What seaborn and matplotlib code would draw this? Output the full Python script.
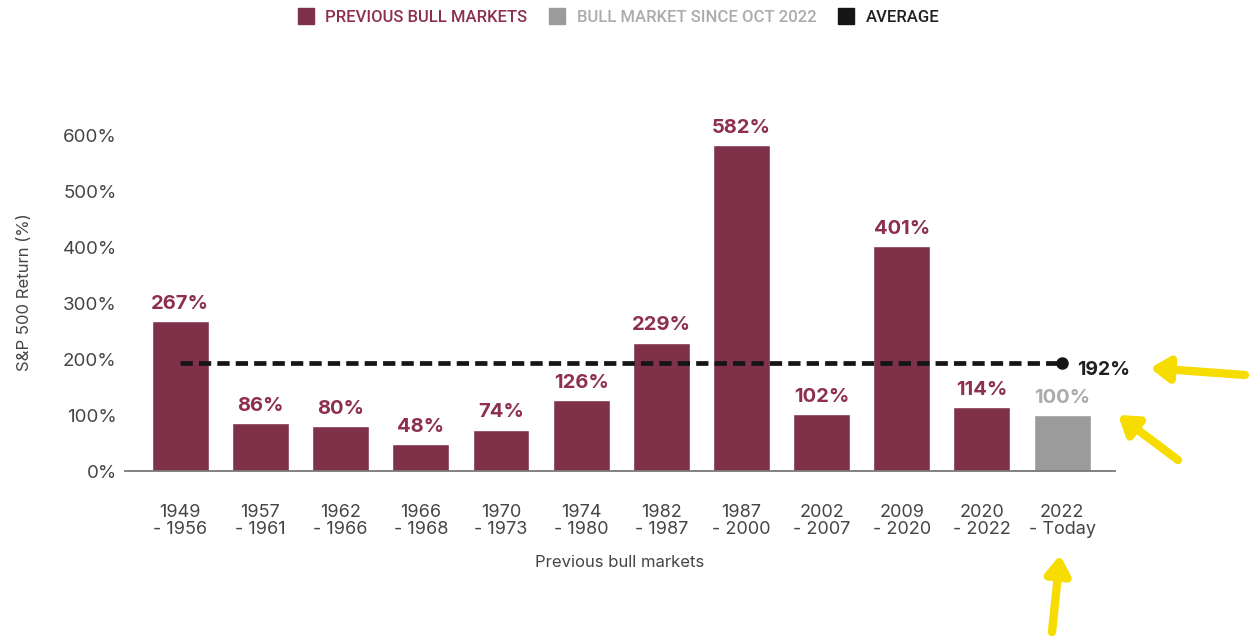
import matplotlib
matplotlib.use("Agg")
import matplotlib.pyplot as plt
import seaborn as sns
import pandas as pd
from matplotlib.lines import Line2D

periods = ["1949\n- 1956", "1957\n- 1961", "1962\n- 1966", "1966\n- 1968", "1970\n- 1973",
           "1974\n- 1980", "1982\n- 1987", "1987\n- 2000", "2002\n- 2007", "2009\n- 2020",
           "2020\n- 2022", "2022\n- Today"]
returns = [267, 86, 80, 48, 74, 126, 229, 582, 102, 401, 114, 100]
groups = ["PREVIOUS BULL MARKETS"] * 11 + ["BULL MARKET SINCE OCT 2022"]
average = 192
yticks = [0, 100, 200, 300, 400, 500, 600]

MAROON = "#7e3148"
GRAY = "#9b9b9b"
LBL_MAROON = "#8c2f50"
LBL_GRAY = "#ababab"
TXT = "#454545"

sns.set_theme(style="white")
plt.rcParams["font.family"] = ["Inter", "DejaVu Sans"]

df = pd.DataFrame({"period": periods, "ret": returns, "group": groups})

fig = plt.figure(figsize=(12.56, 6.37), dpi=100)
ax = fig.add_axes([125 / 1256, 1 - 471 / 637, (1115 - 125) / 1256, (471 - 112.6) / 637])

sns.barplot(data=df, x="period", y="ret", hue="group",
            palette={"PREVIOUS BULL MARKETS": MAROON, "BULL MARKET SINCE OCT 2022": GRAY},
            dodge=False, width=0.71, saturation=1, legend=False, ax=ax)

ax.set_xlim(-0.69, 11.66)
ax.set_ylim(0, 640)
ax.set_yticks(yticks)
ax.set_yticklabels([f"{v}%" for v in yticks], fontsize=13.5, color=TXT)
ax.tick_params(axis="y", length=0, pad=6)
ax.tick_params(axis="x", length=0, pad=24, labelsize=13, labelcolor=TXT)
for lab in ax.get_xticklabels():
    lab.set_linespacing(1.0)
for s in ["top", "right", "left"]:
    ax.spines[s].set_visible(False)
ax.spines["bottom"].set_color("#777777")
ax.spines["bottom"].set_linewidth(1.3)
ax.set_ylabel("S&P 500 Return (%)", fontsize=12, color=TXT, labelpad=22)
ax.set_xlabel("Previous bull markets", fontsize=12, color=TXT, labelpad=12)

for cont in ax.containers:
    for bar in cont:
        h = bar.get_height()
        if h != h or h == 0:
            continue
        is_gray = abs(h - returns[-1]) < 1e-9 and bar.get_x() > 10
        ax.annotate(f"{int(round(h))}%", (bar.get_x() + bar.get_width() / 2, h),
                    xytext=(0, 6), textcoords="offset points", ha="center", va="bottom",
                    fontsize=14.5, fontweight="bold",
                    color=LBL_GRAY if is_gray else LBL_MAROON)

# average line
ax.plot([0, len(periods) - 1], [average, average], color="#151515", lw=3.4,
        linestyle=(0, (2.6, 1.3)), zorder=5)
ax.plot([len(periods) - 1], [average], marker="o", ms=8, color="#151515", zorder=6)
ax.annotate(f"{average}%", (len(periods) - 1, average), xytext=(11, -5),
            textcoords="offset points", ha="left", va="center",
            fontsize=14, fontweight="bold", color="#202020")

# legend
handles = [Line2D([], [], marker="s", ls="", ms=12, color=MAROON),
           Line2D([], [], marker="s", ls="", ms=12, color=GRAY),
           Line2D([], [], marker="s", ls="", ms=12, color="#151515")]
leg = fig.legend(handles, ["PREVIOUS BULL MARKETS", "BULL MARKET SINCE OCT 2022", "AVERAGE"],
                 loc="center", bbox_to_anchor=(616 / 1256, 1 - 17 / 637), ncol=3,
                 frameon=False, fontsize=12, handletextpad=0.35, columnspacing=1.0,
                 handlelength=1.6, labelcolor=[LBL_MAROON, LBL_GRAY, "#202020"])
for t in leg.get_texts():
    t.set_family(["Roboto", "DejaVu Sans"])
    t.set_fontsize(12)
    t.set_fontweight("medium")

# hand-drawn yellow arrows (annotations in the reference)
YEL = "#f7dc00"
arrow_kw = dict(arrowstyle="-|>,head_length=0.9,head_width=0.6", color=YEL, lw=6,
                shrinkA=0, shrinkB=0)
ax.annotate("", xy=(1150, 637 - 368), xytext=(1245, 637 - 375), xycoords="figure pixels",
            textcoords="figure pixels", arrowprops=arrow_kw, annotation_clip=False)
ax.annotate("", xy=(1118, 637 - 415), xytext=(1178, 637 - 460), xycoords="figure pixels",
            textcoords="figure pixels", arrowprops=arrow_kw, annotation_clip=False)
ax.annotate("", xy=(1060, 637 - 555), xytext=(1052, 637 - 632), xycoords="figure pixels",
            textcoords="figure pixels", arrowprops=arrow_kw, annotation_clip=False)

fig.savefig("out.png", dpi=100)
